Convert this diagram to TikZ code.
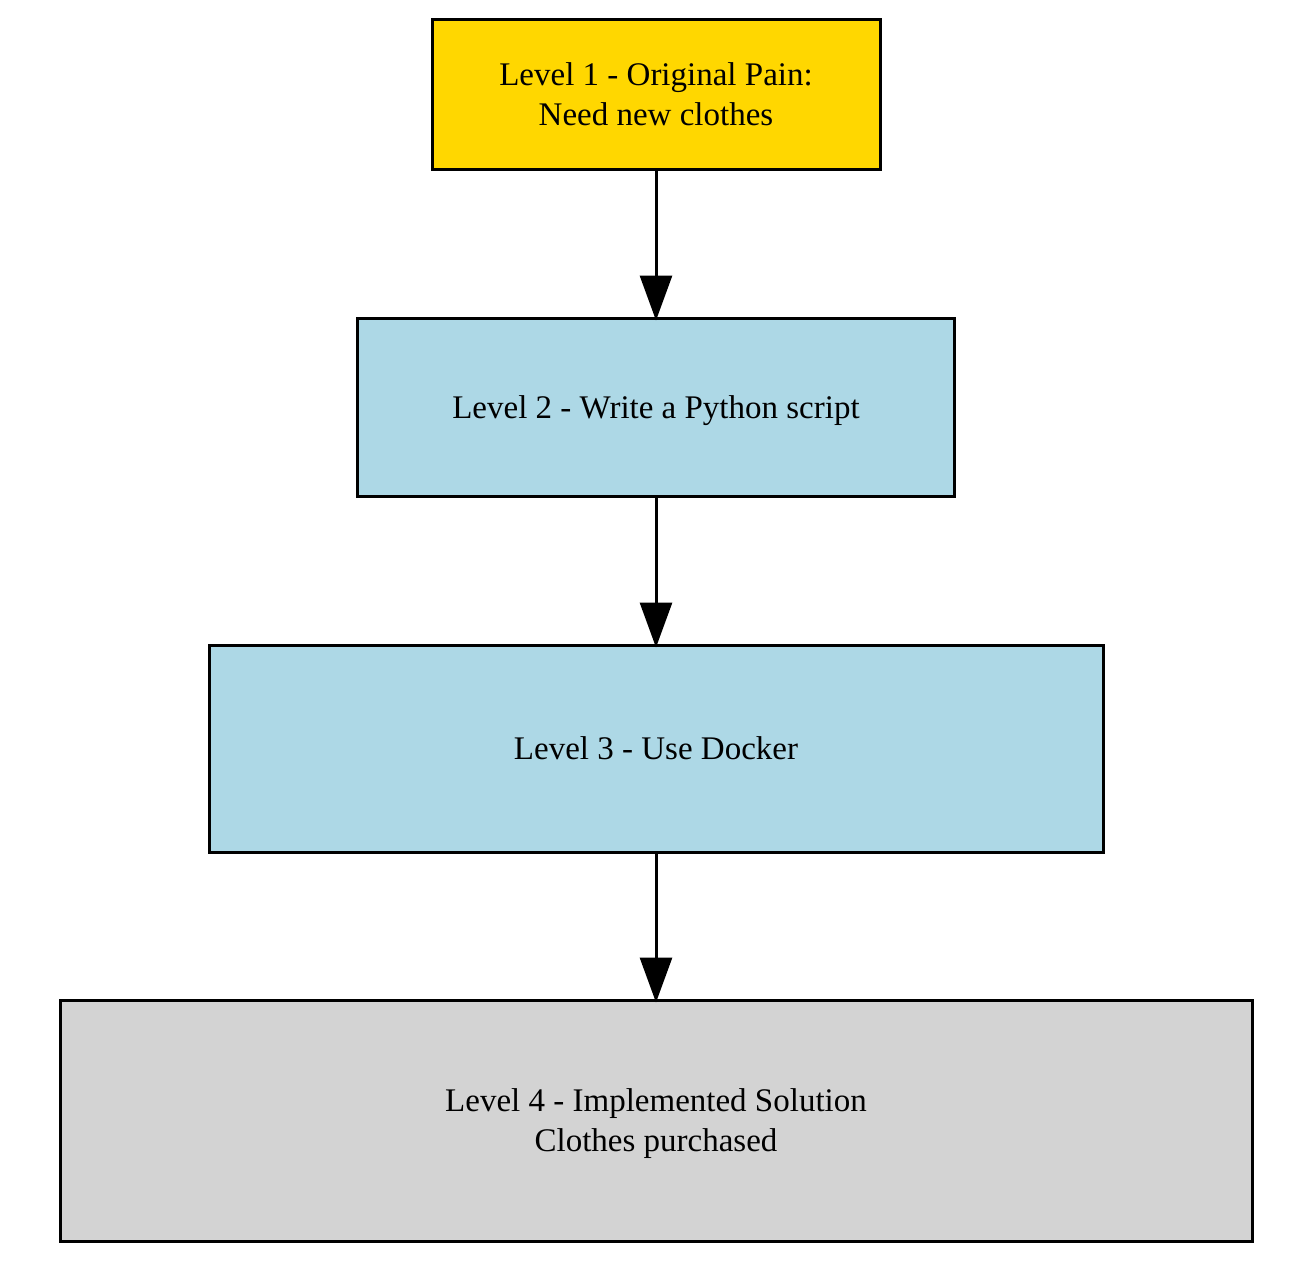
\documentclass[tikz,border=0pt]{standalone}
\usepackage{fontspec}
\setmainfont{Liberation Serif}
\usetikzlibrary{arrows.meta}
\definecolor{gold}{HTML}{FFD700}
\definecolor{lblue}{HTML}{ADD8E6}
\definecolor{lgray}{HTML}{D3D3D3}
\begin{document}
\begin{tikzpicture}[x=1pt,y=-1pt,
  lvl/.style={draw=black,line width=3pt,align=center,inner sep=0pt,text depth=0pt,
    font=\fontsize{33}{40}\selectfont},
  conn/.style={line width=3pt,shorten >=-4pt,-{Triangle[length=45pt,width=32pt]}}]
\useasboundingbox (0,0) rectangle (1304,1274);
\node[lvl,fill=gold,minimum width=448pt,minimum height=150pt] (l1) at (656,94) {Level 1 - Original Pain:\\Need new clothes};
\node[lvl,fill=lblue,minimum width=597pt,minimum height=178pt] (l2) at (656,407) {Level 2 - Write a Python script};
\node[lvl,fill=lblue,minimum width=894pt,minimum height=207pt] (l3) at (656,748.5) {Level 3 - Use Docker};
\node[lvl,fill=lgray,minimum width=1192pt,minimum height=241pt] (l4) at (656,1120.5) {Level 4 - Implemented Solution\\Clothes purchased};
\draw[conn] (l1.south) -- (l2.north);
\draw[conn] (l2.south) -- (l3.north);
\draw[conn] (l3.south) -- (l4.north);
\end{tikzpicture}
\end{document}
